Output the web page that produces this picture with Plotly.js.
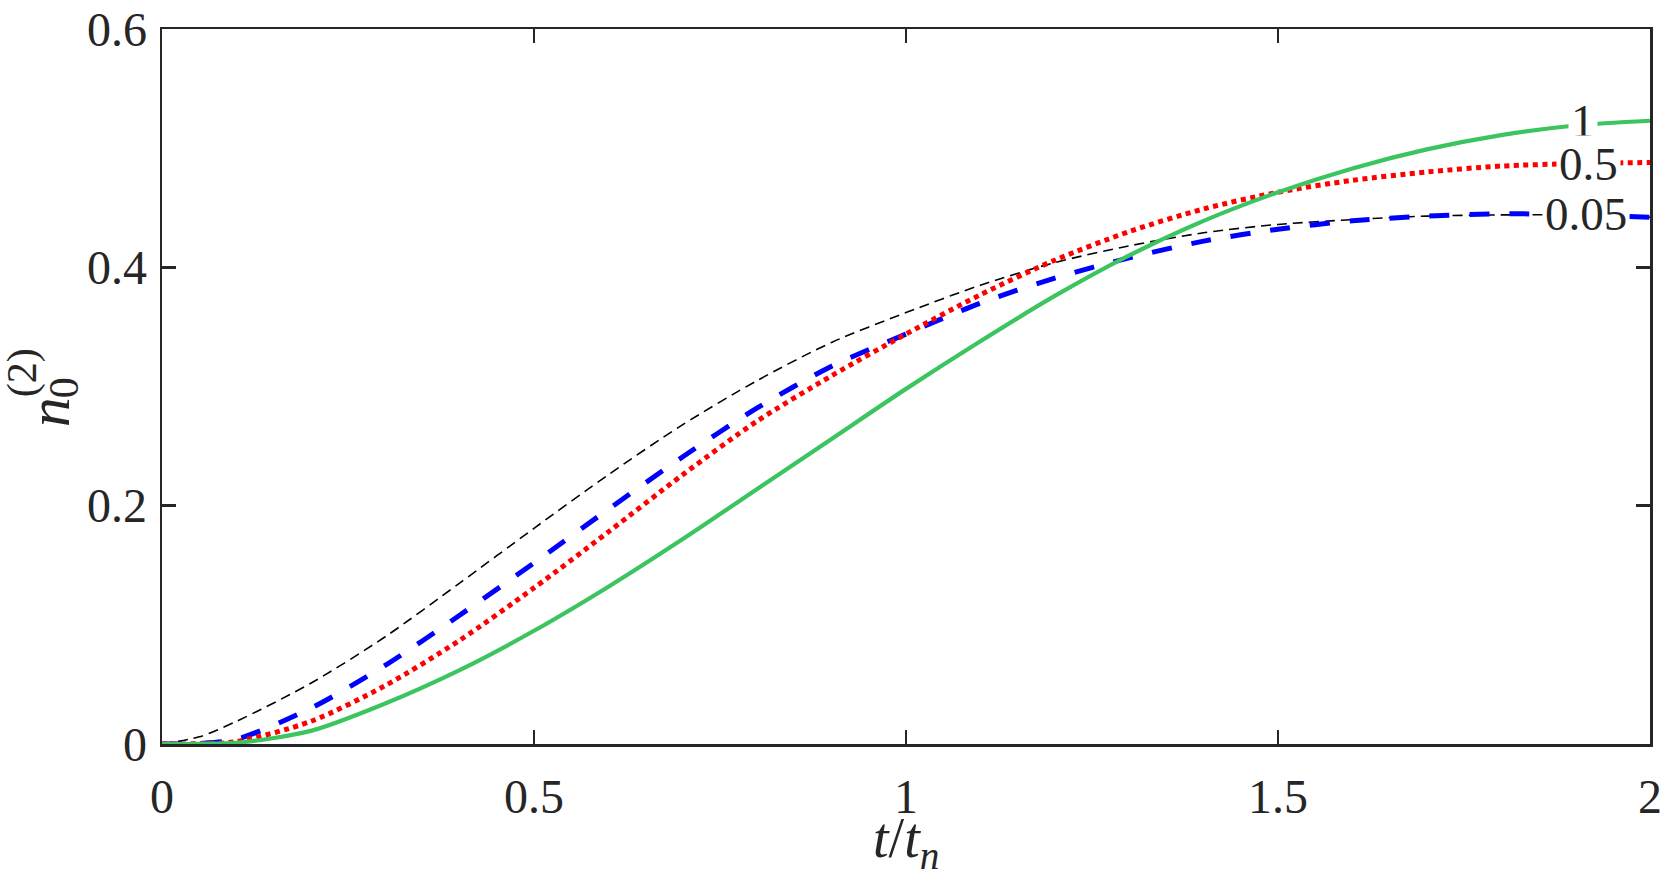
<!DOCTYPE html>
<html>
<head>
<meta charset="utf-8">
<script src="https://cdn.plot.ly/plotly-3.0.1.min.js"></script>
<style>
  html, body { margin: 0; padding: 0; background: #fff; }
  #chart { width: 1664px; height: 880px; }
</style>
</head>
<body>
<div id="chart"></div>
<script>
// ─── Data ─────────────────────────────────────────────────────────────────────

const tGrid = [0, 0.05, 0.1, 0.2, 0.3, 0.4, 0.5, 0.6, 0.7, 0.8, 0.9, 1.0,
               1.1, 1.2, 1.3, 1.4, 1.5, 1.6, 1.7, 1.8, 1.9, 2.0];

// thin black dashed reference curve
const nRef = [0, 0.006, 0.019, 0.051, 0.090, 0.135, 0.181, 0.226, 0.268, 0.305,
              0.337, 0.362, 0.385, 0.404, 0.418, 0.429, 0.436, 0.440, 0.443,
              0.444, 0.444, 0.442];

// parameter = 0.05 (blue dashed)
const n005 = [0, 0.0005, 0.004, 0.030, 0.066, 0.108, 0.152, 0.197, 0.241, 0.282,
              0.317, 0.344, 0.370, 0.391, 0.408, 0.422, 0.432, 0.439, 0.443,
              0.445, 0.444, 0.442];

// parameter = 0.5 (red dotted)
const n05 = [0, 0.0003, 0.002, 0.019, 0.049, 0.087, 0.131, 0.178, 0.226, 0.271,
             0.309, 0.344, 0.377, 0.406, 0.430, 0.449, 0.463, 0.473, 0.480,
             0.485, 0.487, 0.488];

// parameter = 1 (green solid)
const n1 = [0, 0.0002, 0.001, 0.011, 0.034, 0.062, 0.095, 0.132, 0.172, 0.214,
            0.256, 0.298, 0.338, 0.376, 0.410, 0.439, 0.463, 0.483, 0.499,
            0.511, 0.519, 0.523];

const curveLabels = ['1', '0.5', '0.05'];
const labelX      = [1.91, 1.917, 1.914];
const labelY      = [0.523, 0.487, 0.445];

const xTicks = [0, 0.5, 1, 1.5, 2];
const yTicks = [0, 0.2, 0.4, 0.6];

// ─── Styling ──────────────────────────────────────────────────────────────────

const SERIF = 'Liberation Serif';
const AXIS  = '#262626';

const traces = [
  { y: nRef, line: { color: '#000000', width: 1.6, dash: '10px,6px' } },
  { y: n005, line: { color: '#0000ff', width: 5,   dash: '20px,20px' } },
  { y: n05,  line: { color: '#ff0000', width: 5,   dash: '5px,4.5px' } },
  { y: n1,   line: { color: '#3cc460', width: 4.2 } },
].map(tr => ({
  x: tGrid,
  y: tr.y,
  type: 'scatter',
  mode: 'lines',
  line: Object.assign({ shape: 'spline', smoothing: 0.8 }, tr.line),
  hoverinfo: 'skip',
}));

const axisCommon = {
  showline:   true,
  linecolor:  AXIS,
  linewidth:  2.5,
  mirror:     'ticks',
  ticks:      'inside',
  ticklen:    14,
  tickwidth:  2.5,
  tickcolor:  AXIS,
  showgrid:   false,
  zeroline:   false,
  tickfont:   { family: SERIF, size: 48, color: AXIS },
};

// curve labels sit on top of the lines with a white box
const curveNotes = curveLabels.map((txt, i) => ({
  x: labelX[i], y: labelY[i], xref: 'x', yref: 'y',
  text: txt, showarrow: false,
  xanchor: 'center', yanchor: 'middle',
  bgcolor: '#ffffff', borderpad: 2,
  font: { family: SERIF, size: 47, color: AXIS },
}));

// stacked y label  n_0^(2), drawn as three rotated pieces
const yLabelNotes = [
  { text: '<i>n</i>', x: -0.076,  y: 0.464, size: 60 },
  { text: '0',        x: -0.0659, y: 0.499, size: 42 },
  { text: '(2)',      x: -0.0941, y: 0.520, size: 42 },
].map(p => ({
  x: p.x, y: p.y, xref: 'paper', yref: 'paper',
  text: p.text, showarrow: false, textangle: -90,
  xanchor: 'center', yanchor: 'middle',
  font: { family: SERIF, size: p.size, color: AXIS },
}));

// x label  t/t_n
const xLabelNote = {
  x: 0.5, y: -0.137, xref: 'paper', yref: 'paper',
  text: '<i>t</i>/<i>t</i><sub><i>n</i></sub>', showarrow: false,
  xanchor: 'center', yanchor: 'middle',
  font: { family: SERIF, size: 56, color: AXIS },
};

const layout = {
  width:  1664,
  height: 880,
  margin: { l: 162, r: 14, t: 29, b: 136 },
  paper_bgcolor: '#ffffff',
  plot_bgcolor:  '#ffffff',
  showlegend: false,
  xaxis: Object.assign({}, axisCommon, {
    range: [0, 2],
    tickvals: xTicks,
    ticklabelstandoff: 9,
  }),
  yaxis: Object.assign({}, axisCommon, {
    range: [0, 0.6],
    tickvals: yTicks,
    ticklabelstandoff: 3,
  }),
  annotations: curveNotes.concat(yLabelNotes, [xLabelNote]),
};

Plotly.newPlot('chart', traces, layout, { displayModeBar: false, staticPlot: true });
</script>
</body>
</html>
